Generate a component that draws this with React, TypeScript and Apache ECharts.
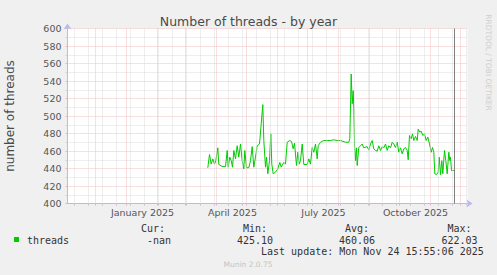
import React, { useEffect, useRef } from "react";
import * as echarts from "echarts";

// ---- data ----
const START_DATE = "2024-11-03"; // left edge of the plot
const SPAN_DAYS = 400;
const NOW_TIME = "2025-11-24T15:55:06Z";

// day offsets from START_DATE
const days = [
  140.3, 142, 143.7, 145.3, 147, 148.3, 150.3, 151.3, 154.7, 158, 159.7, 160.7, 162.3, 163.7, 165,
  166.3, 168, 169.7, 171.3, 173, 174.7, 176.3, 177.3, 179, 181.3, 183, 184.7, 186.3, 188, 189.7,
  192, 193.7, 195.3, 196.3, 198, 199, 200.3, 202, 203.3, 204.3, 205.7, 208, 210.3, 212.3, 213.7,
  216.3, 218, 219.7, 222.3, 224, 225.7, 227, 229, 230.3, 231.7, 233, 234.7, 236.3, 239.7, 241.3,
  243, 244.7, 246.3, 248, 249.7, 250.7, 253, 256.3, 259.7, 263, 266.3, 269.7, 273, 278, 281.3,
  282.3, 283.7, 284.7, 285.7, 286.3, 287, 288, 289, 289.7, 291.3, 293, 294.7, 296.3, 299.7, 301.3,
  303, 304.7, 306.3, 308, 309.7, 311.3, 313, 314.7, 316.3, 318, 319.7, 321.3, 323, 324.7, 326.3,
  328, 329.7, 331.3, 333, 334.7, 336.3, 338, 339.7, 340.7, 342, 343.7, 345, 346.3, 348, 349.7,
  350.7, 352.3, 353.7, 355.3, 357, 358.7, 360.3, 362, 363.7, 365, 366.3, 367.3, 369, 370.7, 371.7,
  373, 374.3, 375.3, 377, 378.3, 379.7, 381.3, 382.3, 383, 384, 385.7, 387,
];
const threads = [
  440.8, 456, 445, 451, 445, 449, 463.6, 444.6, 442.3, 442, 460.6, 441.5, 453, 449, 441.5,
  460.6, 451, 466, 453, 468, 449, 439.6, 460.6, 440.8, 441, 449, 465, 441.5, 453, 466,
  468, 491, 513, 472, 441.5, 453, 434, 449, 479.6, 445, 434, 435.8, 439.6, 447, 441.5,
  447, 445, 470, 472, 471, 462.5, 469, 443.4, 458.6, 445, 449, 468, 444.6, 444.6, 451,
  445, 464, 458.6, 468, 451, 466, 470, 472, 472, 472, 472.8, 472, 472, 470, 470,
  474, 548, 514, 529, 510, 468, 449, 463.6, 443.4, 464, 466, 468, 463.6, 465, 461,
  468, 472, 462.5, 460.6, 459.8, 466, 460.6, 465, 463.6, 468, 460.6, 466, 463.6, 470, 468,
  464, 470, 458.6, 463.6, 456.8, 462.5, 464, 460.6, 450, 477.7, 474, 479.6, 472, 476.6, 472,
  485, 481.5, 482.6, 477.7, 479.6, 472, 475.8, 468, 458.6, 464, 458.6, 434, 433, 435.8, 453,
  433, 449, 434, 460.6, 449, 434, 458.6, 449, 453, 437.7, 437.7, 437.7,
];

const Y_MIN = 400;
const Y_MAX = 600;
const Y_STEP = 20;

const xLabelDates = ["2025-01-01", "2025-04-01", "2025-07-01", "2025-10-01"];
const xLabelTexts = ["January 2025", "April 2025", "July 2025", "October 2025"];

const statHeaders = ["Cur:", "Min:", "Avg:", "Max:"];
const statValues = ["-nan", "425.10", "460.06", "622.03"];
const seriesName = "threads";
const lastUpdate = "Last update: Mon Nov 24 15:55:06 2025";

// ---- helpers ----
const DAY_MS = 86400000;
const startMs = Date.parse(START_DATE + "T00:00:00Z");
const dayOf = (iso: string) =>
  (Date.parse(iso.length > 10 ? iso : iso + "T00:00:00Z") - startMs) / DAY_MS;

// month starts inside the plotted span
const monthDays: number[] = [];
{
  const s = new Date(startMs);
  let y = s.getUTCFullYear();
  let m = s.getUTCMonth() + 1;
  for (;;) {
    if (m > 11) { m = 0; y++; }
    const d = (Date.UTC(y, m, 1) - startMs) / DAY_MS;
    if (d > SPAN_DAYS) break;
    monthDays.push(d);
    m++;
  }
}
// two-weekly minor grid
const minorDays: number[] = [];
for (let d = 7; d < SPAN_DAYS; d += 14) minorDays.push(d);

const labelDays = xLabelDates.map((s) => dayOf(s) + 16);
const nowDay = Math.round(dayOf(NOW_TIME));

const FONT = "DejaVu Sans";
const MONO = "DejaVu Sans Mono";
const RED_GRID = "#F2BEBE";
const GREY_GRID = "#DCDCDC";
const AXIS = "#B8B8F2";

function vLines(list: number[], color: string, dashed: boolean, z: number) {
  return {
    type: "line",
    data: [],
    silent: true,
    z,
    markLine: {
      silent: true,
      symbol: ["none", "none"],
      label: { show: false },
      animation: false,
      lineStyle: { color, type: dashed ? [1, 1] : "solid", width: 1, opacity: 1 },
      emphasis: { disabled: true },
      data: list.map((d) => ({ xAxis: d })),
    },
  };
}

export default function App() {
  const ref = useRef<HTMLDivElement>(null);
  useEffect(() => {
    document.body.style.margin = "0";
    const chart = echarts.init(ref.current!, null, { renderer: "svg" });
    const statX = [171, 273, 375, 477.5];
    const option: any = {
      animation: false,
      backgroundColor: "#F0F0F0",
      textStyle: { fontFamily: FONT },
      title: {
        text: "Number of threads - by year",
        left: "center",
        top: 10,
        textStyle: { fontFamily: FONT, fontSize: 12.5, fontWeight: "normal", color: "#4A4A4A" },
      },
      grid: {
        left: 67.5,
        right: 29.5,
        top: 28.5,
        bottom: 71.5,
        show: true,
        backgroundColor: "#FFFFFF",
        borderWidth: 0,
        containLabel: false,
        outerBoundsMode: "none",
      },
      xAxis: {
        type: "value",
        min: 0,
        max: SPAN_DAYS,
        axisLine: {
          show: true,
          lineStyle: { color: AXIS, width: 1 },
          symbol: ["none", "arrow"],
          symbolSize: [6, 6],
          symbolOffset: [0, 5],
        },
        axisTick: {
          show: true,
          customValues: [...minorDays, ...monthDays],
          length: 2,
          lineStyle: { color: "#D0B8D0" },
        },
        axisLabel: {
          customValues: labelDays,
          formatter: (v: number) => {
            let best = 0;
            labelDays.forEach((d, i) => { if (Math.abs(d - v) < Math.abs(labelDays[best] - v)) best = i; });
            return xLabelTexts[best];
          },
          color: "#555",
          fontFamily: FONT,
          fontSize: 9.5,
          margin: 4,
        },
        splitLine: { show: false },
      },
      yAxis: {
        type: "value",
        min: Y_MIN,
        max: Y_MAX,
        interval: Y_STEP,
        name: "number of threads",
        nameLocation: "middle",
        nameGap: 52,
        nameTextStyle: { fontFamily: FONT, fontSize: 12, color: "#4A4A4A" },
        axisLine: {
          show: true,
          lineStyle: { color: AXIS, width: 1 },
          symbol: ["none", "arrow"],
          symbolSize: [6, 6],
          symbolOffset: [0, 5],
        },
        axisTick: { show: true, length: 2, lineStyle: { color: "#E6B8B8" } },
        minorTick: { show: true, splitNumber: 2, length: 2, lineStyle: { color: "#D0D0D0" } },
        axisLabel: { color: "#555", fontFamily: FONT, fontSize: 9.5, margin: 6 },
        splitLine: { show: true, lineStyle: { color: RED_GRID, type: [1, 1], width: 1 } },
        minorSplitLine: { show: true, lineStyle: { color: GREY_GRID, type: [1, 1], width: 1 } },
      },
      series: [
        vLines(minorDays, GREY_GRID, true, 1),
        vLines(monthDays, RED_GRID, true, 1),
        vLines([nowDay], "#808080", false, 4),
        {
          type: "line",
          name: seriesName,
          data: days.map((d, i) => [d, threads[i]]),
          showSymbol: false,
          z: 3,
          lineStyle: { color: "#00CC00", width: 1 },
          itemStyle: { color: "#00CC00" },
        },
      ],
      graphic: [
        { type: "rect", shape: { x: 14, y: 237, width: 5, height: 5 }, style: { fill: "#00CC00" } },
        {
          type: "text",
          x: 27,
          y: 240,
          style: { text: seriesName, font: `10px "${MONO}"`, fill: "#333", verticalAlign: "middle", align: "left" },
        },
        ...statHeaders.map((h, i) => ({
          type: "text",
          x: statX[i] - 6,
          y: 228,
          style: { text: h, font: `10px "${MONO}"`, fill: "#333", verticalAlign: "middle", align: "right" },
        })),
        ...statValues.map((v, i) => ({
          type: "text",
          x: statX[i],
          y: 240,
          style: { text: v, font: `10px "${MONO}"`, fill: "#333", verticalAlign: "middle", align: "right" },
        })),
        {
          type: "text",
          x: 261,
          y: 251.5,
          style: { text: lastUpdate, font: `10px "${MONO}"`, fill: "#333", verticalAlign: "middle", align: "left" },
        },
        {
          type: "text",
          x: 248,
          y: 264,
          style: { text: "Munin 2.0.75", font: `7.5px "${FONT}"`, fill: "#C4C4C4", verticalAlign: "middle", align: "center" },
        },
        {
          type: "text",
          x: 488,
          y: 62.5,
          rotation: -Math.PI / 2,
          style: {
            text: "RRDTOOL / TOBI OETIKER",
            font: `7.5px "${FONT}"`,
            fill: "#CFCFCF",
            verticalAlign: "middle",
            align: "center",
          },
        },
      ],
    };
    chart.setOption(option);
    return () => chart.dispose();
  }, []);
  return (
    <div
      ref={ref}
      style={{ position: "absolute", left: 0, top: 0, width: 497, height: 275 }}
    />
  );
}
